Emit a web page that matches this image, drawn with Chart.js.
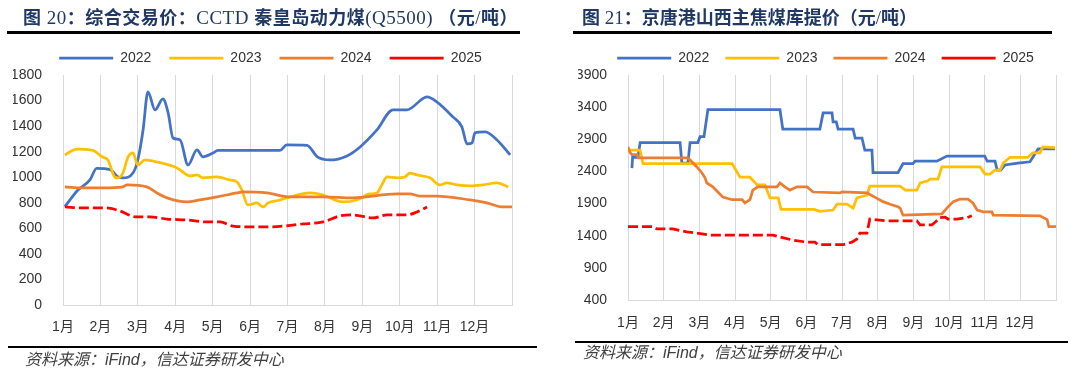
<!DOCTYPE html>
<html><head><meta charset="utf-8">
<script src="https://cdn.jsdelivr.net/npm/chart.js@4/dist/chart.umd.min.js"></script>
<style>
html,body{margin:0;padding:0;background:#fff;width:1080px;height:368px;overflow:hidden;position:relative}
.title{position:absolute;top:7px;font:bold 18px "Liberation Serif","Noto Sans CJK SC",serif;color:#1f3864;white-space:nowrap;line-height:22px}
.title .lat{font-size:19px;font-weight:normal}
.rule{position:absolute;height:3px;background:#000}
.src{position:absolute;font:italic 16px "Liberation Sans","Noto Sans CJK SC",sans-serif;color:#404040;white-space:nowrap;line-height:18px}
canvas{position:absolute;top:0}
</style></head><body>
<canvas id="c1" width="540" height="368" style="left:0"></canvas>
<canvas id="c2" width="540" height="368" style="left:540px"></canvas>
<div class="title" style="left:23px;letter-spacing:0.5px">图<span class="lat"> 20</span>：综合交易价：<span class="lat">CCTD </span>秦皇岛动力煤<span class="lat">(Q5500)  </span>（元<span class="lat">/</span>吨）</div>
<div class="rule" style="left:7px;width:513px;top:31px"></div>
<div class="title" style="left:582px">图<span class="lat"> 21</span>：京唐港山西主焦煤库提价（元<span class="lat">/</span>吨）</div>
<div class="rule" style="left:573px;width:479px;top:31px"></div>
<div class="rule" style="left:8px;width:529px;top:346px;height:2px"></div>
<div class="src" style="left:25px;top:351px">资料来源：iFind，信达证券研发中心</div>
<div class="rule" style="left:575px;width:493px;top:341px;height:2px"></div>
<div class="src" style="left:583px;top:344px">资料来源：iFind，信达证券研发中心</div>
<script>
// ---- data ----
const monthLabels = ['1月','2月','3月','4月','5月','6月','7月','8月','9月','10月','11月','12月'];
const seriesNames = ['2022','2023','2024','2025'];
const seriesColors = ['#4472C4','#FFC000','#ED7D31','#FF0000'];

// Chart 20: CCTD Qinhuangdao thermal coal (x = month position, 0 = Jan 1)
const thermX2022 = [0.05,0.4,0.72,0.9,1.26,1.47,1.6,1.87,2.0,2.14,2.27,2.46,2.67,2.81,2.94,3.13,3.34,3.58,3.74,4.01,4.14,5.8,5.98,6.52,6.8,7.13,7.59,7.94,8.39,8.82,9.19,9.73,9.99,10.42,10.66,10.8,10.93,11.01,11.28,11.6,11.95];
const thermY2022 = [770,900,979,1070,1060,1002,995,1033,1135,1370,1668,1527,1613,1503,1307,1292,1096,1214,1159,1190,1210,1210,1253,1250,1159,1135,1167,1237,1370,1527,1527,1629,1590,1472,1394,1261,1268,1347,1355,1292,1175];
const thermX2023 = [0.05,0.37,0.8,1.04,1.2,1.39,1.47,1.6,1.74,1.87,2.0,2.19,2.5,3.05,3.4,3.58,3.74,4.1,4.46,4.65,4.78,4.94,5.18,5.35,5.48,5.8,6.07,6.6,6.95,7.48,7.85,8.2,8.39,8.52,8.66,8.93,9.14,9.27,9.46,9.81,10.07,10.26,10.53,10.88,11.22,11.6,11.9];
const thermY2023 = [1175,1220,1210,1160,1135,1000,995,1033,1159,1190,1096,1135,1120,1073,1010,1018,995,1002,979,963,900,783,799,767,799,822,846,877,861,807,822,869,877,940,1002,995,1002,1033,1018,995,940,955,940,932,940,955,924];
const thermX2024 = [0.05,0.54,1.07,1.6,1.71,2.24,2.51,2.78,3.31,3.66,4.12,4.65,4.81,5.45,6.07,6.95,7.75,8.93,9.27,9.54,9.99,10.88,11.33,11.76,12];
const thermY2024 = [924,916,916,924,940,924,877,838,807,822,846,877,885,877,846,846,838,869,869,853,853,822,799,767,767];
const thermX2025 = [0.05,0.54,1.17,1.52,1.97,2.32,2.78,3.31,3.85,4.2,4.54,5.08,5.5,6.41,6.95,7.4,7.75,8.28,8.66,9.19,9.46,9.73];
const thermY2025 = [767,760,760,736,689,689,673,665,650,650,618,611,611,634,650,697,705,681,705,705,728,767];

// Chart 21: Jingtang port Shanxi coking coal
const cokeX2022 = [0.11,0.13,0.28,0.34,1.46,1.51,1.68,1.74,1.96,2.02,2.13,2.24,4.26,4.34,5.38,5.47,5.72,5.75,5.84,5.89,6.31,6.37,6.56,6.64,6.84,6.87,7.57,7.71,7.99,8.05,8.66,8.94,10.0,10.07,10.29,10.35,10.45,10.57,10.93,11.27,11.35,11.5,11.97];
const cokeY2022 = [2450,2620,2620,2850,2850,2530,2530,2850,2850,2940,2940,3360,3360,3060,3060,3310,3310,3170,3170,3060,3060,2920,2920,2730,2730,2380,2380,2520,2520,2560,2560,2640,2640,2560,2560,2420,2420,2500,2530,2550,2620,2750,2750];
const cokeX2023 = [0,0.34,0.42,2.92,3.14,3.42,3.62,3.84,3.98,4.21,4.29,5.22,5.38,5.75,5.86,6.14,6.31,6.42,6.7,6.78,7.63,7.77,8.1,8.19,8.39,8.47,8.69,8.8,9.87,10.01,10.15,10.29,10.43,10.52,10.71,11.21,11.35,11.55,11.63,11.97];
const cokeY2023 = [2730,2730,2520,2520,2310,2310,2190,2190,1990,1990,1810,1810,1780,1800,1890,1890,1830,1990,2030,2170,2170,2110,2110,2220,2250,2280,2280,2470,2470,2360,2360,2420,2420,2530,2620,2620,2690,2690,2780,2770];
const cokeX2024 = [0,0.05,0.11,0.25,0.29,1.68,1.79,1.93,2.07,2.16,2.21,2.38,2.52,2.66,2.92,3.2,3.28,3.42,3.5,3.64,4.18,4.26,4.4,4.54,4.74,5.02,5.19,5.94,6.0,6.7,6.92,7.15,7.35,7.57,7.63,7.71,8.8,8.94,9.12,9.31,9.53,9.67,9.79,9.96,10.2,10.24,11.55,11.75,11.8,12];
const cokeY2024 = [2780,2700,2660,2660,2610,2610,2550,2470,2380,2300,2220,2160,2080,2000,1960,1960,1910,1960,2110,2160,2160,2220,2160,2110,2160,2160,2080,2065,2080,2065,2000,1930,1890,1850,1830,1720,1740,1830,1930,1970,1970,1910,1800,1770,1770,1720,1710,1650,1540,1540];
const cokeX2025 = [0,0.7,0.81,1.26,1.65,1.93,2.3,4.07,4.26,4.63,5.02,5.24,5.33,6.03,6.28,6.42,6.5,6.7,6.78,7.26,8.1,8.19,8.52,8.61,8.75,8.89,8.97,9.22,9.5,9.64];
const cokeY2025 = [1540,1540,1505,1505,1460,1440,1410,1410,1380,1330,1300,1300,1260,1260,1300,1350,1440,1440,1660,1630,1630,1570,1570,1610,1680,1690,1660,1660,1680,1710];

// ---- build ----
const fontFam = '"Liberation Sans","Noto Sans CJK SC",sans-serif';
function pts(xs, ys){ return xs.map((x,i)=>({x:x, y:ys[i]})); }

function makeChart(id, xsList, ysList, yMin, yMax, yStep, opt){
  const datasets = xsList.map((xs,i)=>({
    label: seriesNames[i],
    data: pts(xs, ysList[i]),
    borderColor: seriesColors[i],
    backgroundColor: seriesColors[i],
    borderWidth: 2.75,
    borderDash: i===3 ? [10,4] : [],
    pointRadius: 0,
    order: 3-i,
    cubicInterpolationMode: opt.smooth ? 'monotone' : 'default',
    tension: 0
  }));
  return new Chart(document.getElementById(id), {
    type: 'line',
    data: { datasets },
    options: {
      responsive: false, animation: false, devicePixelRatio: 1, events: [],
      layout: { padding: opt.pad },
      plugins: {
        tooltip: { enabled: false },
        legend: {
          position: 'top',
          labels: {
            usePointStyle: true, pointStyle: 'line', pointStyleWidth: 54,
            padding: opt.legendPad, color: '#333',
            font: { size: 14, family: fontFam },
            sort: (a,b)=>a.datasetIndex-b.datasetIndex
          }
        }
      },
      scales: {
        x: {
          type: 'linear', min: 0, max: 12,
          afterFit: s => { s.height = 40; },
          ticks: { stepSize: 1, autoSkip: false, maxRotation: 0, padding: opt.xPad, color: '#333',
                   font: { size: 14, family: fontFam },
                   callback: v => monthLabels[v] || '' },
          grid: { color: '#d9d9d9', lineWidth: 1, drawTicks: false },
          border: { color: '#d9d9d9' }
        },
        y: {
          min: yMin, max: yMax,
          afterFit: s => { s.width = 50; },
          ticks: { stepSize: yStep, padding: 13, color: '#333', font: { size: 14, family: fontFam },
                   callback: v => String(v) },
          grid: { display: false },
          border: { display: false }
        },
        yR: {
          position: 'right', display: true,
          afterFit: s => { s.width = opt.rightW; },
          ticks: { display: false },
          grid: { display: false },
          border: { display: false }
        }
      }
    }
  });
}

makeChart('c1',
  [thermX2022, thermX2023, thermX2024, thermX2025],
  [thermY2022, thermY2023, thermY2024, thermY2025],
  0, 1800, 200,
  { smooth: true, pad: {left:13, right:12, top:33, bottom:23}, legendPad: 18, xPad: 14, rightW: 16 });

makeChart('c2',
  [cokeX2022, cokeX2023, cokeX2024, cokeX2025],
  [cokeY2022, cokeY2023, cokeY2024, cokeY2025],
  400, 3900, 500,
  { smooth: false, pad: {left:38, right:7, top:35, bottom:28}, legendPad: 16, xPad: 15, rightW: 17 });
</script>
</body></html>
